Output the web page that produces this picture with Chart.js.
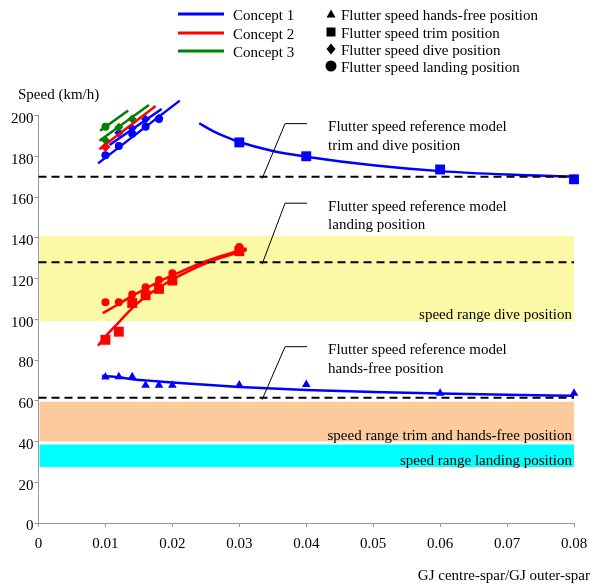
<!DOCTYPE html>
<html>
<head>
<meta charset="utf-8">
<script src="https://cdn.jsdelivr.net/npm/chart.js@4.4.1/dist/chart.umd.min.js"></script>
<style>
  html, body { margin: 0; padding: 0; background: #fff; }
  #wrap { width: 596px; height: 585px; }
</style>
</head>
<body>
<div id="wrap"><canvas id="graph"></canvas></div>
<script>
var FONT = "'Liberation Serif', 'Times New Roman', serif";
var xTickLabels = ["0", "0.01", "0.02", "0.03", "0.04", "0.05", "0.06", "0.07", "0.08"];

// Concept 1 (blue)
var c1TrimX = [0.03, 0.04, 0.06, 0.08];
var c1TrimY = [186.8, 180, 173.5, 168.7];
var c1TrimFitX = [0.024, 0.026, 0.028, 0.03, 0.035, 0.04, 0.05, 0.06, 0.07, 0.08];
var c1TrimFitY = [196.2, 192.5, 189.5, 187, 182.6, 179.8, 175.6, 172.7, 171, 170];
var c1HandsX = [0.01, 0.012, 0.014, 0.016, 0.018, 0.02, 0.03, 0.04, 0.06, 0.08];
var c1HandsY = [71.7, 71.8, 71.8, 67.6, 67.6, 67.6, 67.7, 68, 63.7, 63.7];
var c1HandsFitX = [0.0095, 0.012, 0.014, 0.016, 0.02, 0.025, 0.03, 0.04, 0.05, 0.06, 0.07, 0.08];
var c1HandsFitY = [72.3, 71.5, 70.6, 70, 69, 67.8, 66.8, 65.3, 64.3, 63.5, 62.9, 62.4];
var c1LandX = [0.01, 0.012, 0.014, 0.016, 0.018];
var c1LandY = [180.5, 185, 191, 194.5, 198.3];
var c1LandFitX = [0.0089, 0.0211];
var c1LandFitY = [176.5, 207.3];
var c1DiveX = [0.012, 0.014, 0.016, 0.018];
var c1DiveY = [191.5, 193.7, 198.2, 198.6];
var c1DiveFitX = [0.0106, 0.0184];
var c1DiveFitY = [185.5, 203.2];

// Concept 2 (red)
var c2TrimX = [0.01, 0.012, 0.014, 0.016, 0.018, 0.02, 0.03];
var c2TrimY = [89.9, 93.9, 108, 111.8, 114.9, 119, 133.4];
var c2TrimFitX = [0.0089, 0.01, 0.012, 0.014, 0.016, 0.018, 0.02, 0.025, 0.0311];
var c2TrimFitY = [87, 91.5, 98.5, 105.5, 111, 115.5, 119.5, 127.5, 134];
var c2LandX = [0.01, 0.012, 0.014, 0.016, 0.018, 0.02, 0.03];
var c2LandY = [108.3, 108.3, 112.1, 115.7, 119.3, 122.6, 135.4];
var c2LandFitX = [0.0096, 0.012, 0.014, 0.016, 0.018, 0.02, 0.025, 0.0311];
var c2LandFitY = [103, 107.5, 111.5, 115, 118.5, 121.5, 128.5, 134.8];
var c2DiveX = [0.01];
var c2DiveY = [184.5];
var c2DiveFitX = [0.0091, 0.0175];
var c2DiveFitY = [183.4, 204.7];

// Concept 3 (green)
var c3LandX = [0.01];
var c3LandY = [194.5];
var c3LandFitX = [0.0092, 0.0134];
var c3LandFitY = [192.5, 202.5];
var c3DiveX = [0.01, 0.012, 0.014];
var c3DiveY = [187.9, 194.2, 198.3];
var c3DiveFitX = [0.0091, 0.0165];
var c3DiveFitY = [187.6, 205.2];

// reference model flutter speeds
var refValues = [170, 128, 61.5];
var refNotes = [
  ["Flutter speed reference model", "trim and dive position"],
  ["Flutter speed reference model", "landing position"],
  ["Flutter speed reference model", "hands-free position"]
];
var refNoteX = 0.0334;
var refNoteRise = [53, 59, 51];

// speed ranges
var bandNames = ["speed range dive position", "speed range trim and hands-free position", "speed range landing position"];
var bandLow = [99, 40, 27.5];
var bandHigh = [141, 59.5, 38.5];
var bandColors = ["#fbf8a6", "#fdcb9b", "#00ffff"];

// legend
var conceptNames = ["Concept 1", "Concept 2", "Concept 3"];
var conceptColors = ["#0000ff", "#ff0000", "#008000"];
var markerNames = ["Flutter speed hands-free position", "Flutter speed trim position", "Flutter speed dive position", "Flutter speed landing position"];
var markerShapes = ["triangle", "rect", "rectRot", "circle"];

function pts(xs, ys) {
  return xs.map(function(x, i) { return { x: x, y: ys[i] }; });
}

function fit(xs, ys, color) {
  return {
    data: pts(xs, ys), showLine: true, borderColor: color, borderWidth: 2.5,
    pointRadius: 0, tension: 0.4, cubicInterpolationMode: "monotone", clip: false
  };
}

function marks(xs, ys, color, shape, r) {
  return {
    data: pts(xs, ys), showLine: false, pointStyle: shape, pointRadius: r,
    backgroundColor: color, borderColor: color, borderWidth: 0, clip: false
  };
}

var datasets = [];
refValues.forEach(function(v) {
  datasets.push({
    data: [{ x: 0, y: v }, { x: 0.08, y: v }], showLine: true, borderColor: "#000",
    borderWidth: 2, borderDash: [8, 5], pointRadius: 0, clip: false
  });
});
datasets.push(fit(c1TrimFitX, c1TrimFitY, "#0000ff"));
datasets.push(fit(c1HandsFitX, c1HandsFitY, "#0000ff"));
datasets.push(fit(c2TrimFitX, c2TrimFitY, "#ff0000"));
datasets.push(fit(c2LandFitX, c2LandFitY, "#ff0000"));
datasets.push(fit(c3LandFitX, c3LandFitY, "#008000"));
datasets.push(fit(c3DiveFitX, c3DiveFitY, "#008000"));
datasets.push(fit(c2DiveFitX, c2DiveFitY, "#ff0000"));
datasets.push(fit(c1DiveFitX, c1DiveFitY, "#0000ff"));
datasets.push(fit(c1LandFitX, c1LandFitY, "#0000ff"));
datasets.push(marks(c1TrimX, c1TrimY, "#0000ff", "rect", 7));
datasets.push(marks(c1HandsX, c1HandsY, "#0000ff", "triangle", 5));
datasets.push(marks(c2TrimX, c2TrimY, "#ff0000", "rect", 7));
datasets.push(marks(c2LandX, c2LandY, "#ff0000", "circle", 4));
datasets.push(marks(c3LandX, c3LandY, "#008000", "circle", 4));
datasets.push(marks(c3DiveX, c3DiveY, "#008000", "rectRot", 4.5));
datasets.push(marks(c2DiveX, c2DiveY, "#ff0000", "rectRot", 5));
datasets.push(marks(c1DiveX, c1DiveY, "#0000ff", "rectRot", 4.5));
datasets.push(marks(c1LandX, c1LandY, "#0000ff", "circle", 4));

function shape(ctx, kind, x, y, r) {
  ctx.beginPath();
  if (kind === "triangle") {
    ctx.moveTo(x, y - r); ctx.lineTo(x + r, y + r * 0.8); ctx.lineTo(x - r, y + r * 0.8);
  } else if (kind === "rect") {
    ctx.rect(x - r, y - r, 2 * r, 2 * r);
  } else if (kind === "rectRot") {
    ctx.moveTo(x, y - r - 1); ctx.lineTo(x + r, y); ctx.lineTo(x, y + r + 1); ctx.lineTo(x - r, y);
  } else {
    ctx.arc(x, y, r + 1, 0, Math.PI * 2);
  }
  ctx.closePath();
  ctx.fill();
}

var bandsPlugin = {
  id: "bands",
  beforeDatasetsDraw: function(chart) {
    var ctx = chart.ctx, xs = chart.scales.x, ys = chart.scales.y;
    ctx.save();
    bandNames.forEach(function(name, i) {
      var top = ys.getPixelForValue(bandHigh[i]);
      var bot = ys.getPixelForValue(bandLow[i]);
      var left = xs.getPixelForValue(0), right = xs.getPixelForValue(0.08);
      ctx.fillStyle = bandColors[i];
      ctx.fillRect(left + 1, top, right - left - 1, bot - top);
    });
    ctx.fillStyle = "#000";
    ctx.font = "15px " + FONT;
    ctx.textAlign = "right";
    ctx.textBaseline = "alphabetic";
    bandNames.forEach(function(name, i) {
      ctx.fillText(name, xs.getPixelForValue(0.08) - 2, ys.getPixelForValue(bandLow[i]) - 2);
    });
    ctx.restore();
  },
  afterDraw: function(chart) {
    var ctx = chart.ctx, xs = chart.scales.x, ys = chart.scales.y;
    ctx.save();
    // leader lines and notes for reference model speeds
    ctx.strokeStyle = "#000";
    ctx.lineWidth = 1;
    ctx.font = "15px " + FONT;
    ctx.fillStyle = "#000";
    ctx.textAlign = "left";
    ctx.textBaseline = "middle";
    refValues.forEach(function(v, i) {
      var x0 = xs.getPixelForValue(refNoteX), y0 = ys.getPixelForValue(v);
      var ex = x0 + 23, ey = y0 - refNoteRise[i];
      ctx.beginPath();
      ctx.moveTo(x0, y0 + 2);
      ctx.lineTo(ex, ey);
      ctx.lineTo(ex + 22, ey);
      ctx.stroke();
      ctx.fillText(refNotes[i][0], ex + 43, ey + 3.5);
      ctx.fillText(refNotes[i][1], ex + 43, ey + 22);
    });
    // axis titles
    ctx.fillText("Speed (km/h)", 18, 95);
    ctx.textAlign = "right";
    ctx.fillText("GJ centre-spar/GJ outer-spar", 590, 576);
    // legend
    ctx.textAlign = "left";
    var rowsL = [14, 33, 51];
    conceptNames.forEach(function(name, i) {
      ctx.strokeStyle = conceptColors[i];
      ctx.lineWidth = 3;
      ctx.beginPath();
      ctx.moveTo(178, rowsL[i]);
      ctx.lineTo(224, rowsL[i]);
      ctx.stroke();
      ctx.fillStyle = "#000";
      ctx.fillText(name, 233, rowsL[i] + 2);
    });
    var rowsR = [15, 33, 50, 67];
    markerNames.forEach(function(name, i) {
      ctx.fillStyle = "#000";
      shape(ctx, markerShapes[i], 331, rowsR[i] - 1, 4.5);
      ctx.fillText(name, 341, rowsR[i] + 1);
    });
    ctx.restore();
  }
};

var graph = document.getElementById("graph");
var myChart = new Chart(graph, {
  type: "scatter",
  data: { datasets: datasets },
  options: {
    responsive: true,
    maintainAspectRatio: false,
    animation: false,
    layout: { padding: { left: 0, right: 22, top: 115.5, bottom: 0 } },
    plugins: { legend: { display: false }, tooltip: { enabled: false } },
    scales: {
      x: {
        type: "linear", min: 0, max: 0.08,
        afterFit: function(scale) {
          scale.height = 62;
          scale.paddingLeft = 0;
          scale.paddingRight = 0;
        },
        ticks: {
          stepSize: 0.01, color: "#000", padding: 8,
          font: { family: FONT, size: 15 },
          callback: function(v, i) { return xTickLabels[i]; }
        },
        grid: { display: true, drawOnChartArea: false, drawTicks: true, tickLength: 4, color: "#999" },
        border: { display: true, color: "#999", width: 1 }
      },
      y: {
        type: "linear", min: 0, max: 200,
        afterFit: function(scale) { scale.width = 38.5; },
        ticks: {
          stepSize: 20, color: "#000", padding: 1, labelOffset: 3.5,
          font: { family: FONT, size: 15 }
        },
        grid: { display: true, drawOnChartArea: false, drawTicks: true, tickLength: 4, color: "#999" },
        border: { display: true, color: "#999", width: 1 }
      }
    }
  },
  plugins: [bandsPlugin]
});
</script>
</body>
</html>
